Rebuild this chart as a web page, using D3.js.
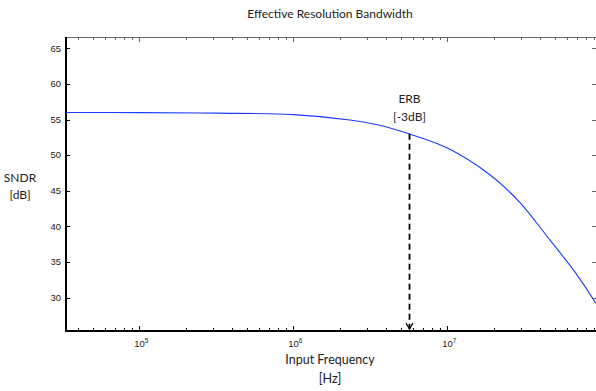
<!DOCTYPE html>
<html><head><meta charset="utf-8">
<script src="https://cdn.jsdelivr.net/npm/d3@7"></script>
<style>body{margin:0;background:#fff}svg{display:block}</style>
</head><body><div id="chart"></div>
<script>
// Data
const freqHz = [3.34e4, 1e5, 3.14e5, 1e6, 2.33e6, 3.65e6, 5.62e6, 1e7, 1.89e7, 2.96e7, 4.63e7, 6.73e7, 9.2e7];
const sndrDb = [56.0, 55.97, 55.9, 55.7, 54.95, 54.2, 53.0, 51.0, 47.25, 43.35, 38.1, 33.6, 29.2];
const erbFreq = 5.62e6;
const erbDb = 53.0;
const yTicks = [30, 35, 40, 45, 50, 55, 60, 65];
const xMajorExp = [5, 6, 7];
const titleText = "Effective Resolution Bandwidth";
const yLabel = ["SNDR", "[dB]"];
const xLabel = ["Input Frequency", "[Hz]"];
const erbLabel = ["ERB", "[-3dB]"];

const W = 596, H = 391;
const L = 66, R = 597, T = 37, B = 331;
const svg = d3.select("#chart").append("svg").attr("width", W).attr("height", H);

const x = d3.scaleLog().domain([3.34e4, 1.0e8]).range([L, L + 154 * Math.log10(1e8 / 3.34e4)]);
const y = d3.scaleLinear().domain([25.3, 66.6]).range([B, T]);

const tickFont = "'Liberation Sans', Arial, sans-serif";
const textFont = "Lato, 'Open Sans', sans-serif";

const minor = [];
for (let e = 4; e <= 7; e++) for (let m = 1; m <= 9; m++) {
  const v = m * Math.pow(10, e);
  if (v >= x.domain()[0] && v <= x.domain()[1]) minor.push({v, major: m === 1});
}
const g = svg.append("g");
g.append("line").attr("x1", L).attr("x2", R).attr("y1", T + 0.5).attr("y2", T + 0.5).attr("stroke", "#666").attr("stroke-width", 1);
g.append("line").attr("x1", R - 0.5).attr("x2", R - 0.5).attr("y1", T).attr("y2", B).attr("stroke", "#666").attr("stroke-width", 1);

g.selectAll(".xb").data(minor).enter().append("line")
  .attr("x1", d => Math.round(x(d.v)) + 0.5).attr("x2", d => Math.round(x(d.v)) + 0.5)
  .attr("y1", B).attr("y2", d => B - (d.major ? 5 : 3)).attr("stroke", "#000");
g.selectAll(".xt").data(minor).enter().append("line")
  .attr("x1", d => Math.round(x(d.v)) + 0.5).attr("x2", d => Math.round(x(d.v)) + 0.5)
  .attr("y1", T).attr("y2", d => T + (d.major ? 5 : 3)).attr("stroke", "#666");
g.selectAll(".yl").data(yTicks).enter().append("line")
  .attr("x1", L).attr("x2", L + 4).attr("y1", d => Math.round(y(d)) + 0.5).attr("y2", d => Math.round(y(d)) + 0.5)
  .attr("stroke", "#000");
g.selectAll(".yr").data(yTicks).enter().append("line")
  .attr("x1", R - 1).attr("x2", R - 5).attr("y1", d => Math.round(y(d)) + 0.5).attr("y2", d => Math.round(y(d)) + 0.5)
  .attr("stroke", "#666");

g.selectAll(".ylab").data(yTicks).enter().append("text")
  .attr("x", L - 5).attr("y", d => y(d)).attr("dy", "0.35em").attr("text-anchor", "end")
  .attr("font-family", tickFont).attr("font-size", 9.5).attr("fill", "#222").text(d => d);
const xl = g.selectAll(".xlab").data(xMajorExp).enter().append("text")
  .attr("x", d => x(Math.pow(10, d)) + 2).attr("y", B + 16).attr("text-anchor", "middle")
  .attr("font-family", tickFont).attr("font-size", 9.5).attr("fill", "#222");
xl.append("tspan").text("10");
xl.append("tspan").attr("dy", -4).attr("font-size", 6.5).text(d => d);

g.append("line").attr("x1", L).attr("x2", L).attr("y1", T).attr("y2", B + 1).attr("stroke", "#000").attr("stroke-width", 2);
g.append("line").attr("x1", L - 1).attr("x2", R).attr("y1", B).attr("y2", B).attr("stroke", "#000").attr("stroke-width", 2);

const line = d3.line().x((d, i) => x(freqHz[i])).y((d, i) => y(sndrDb[i])).curve(d3.curveCatmullRom.alpha(0.5));
svg.append("defs").append("clipPath").attr("id", "clip").append("rect").attr("x", L).attr("y", T).attr("width", R - L).attr("height", B - T);
svg.append("path").datum(sndrDb).attr("d", line).attr("fill", "none").attr("stroke", "#1a3cff").attr("stroke-width", 1.1).attr("clip-path", "url(#clip)");

const ex = Math.round(x(erbFreq)) + 0.5;
svg.append("line").attr("x1", ex).attr("x2", ex).attr("y1", y(erbDb)).attr("y2", B - 2)
  .attr("stroke", "#000").attr("stroke-width", 1.8).attr("stroke-dasharray", "6,4");
svg.append("path").attr("d", `M${ex - 3.5},${B - 8} L${ex},${B - 2} L${ex + 3.5},${B - 8}`)
  .attr("fill", "none").attr("stroke", "#000").attr("stroke-width", 1.3);

const txt = (t, xx, yy, size) => svg.append("text").attr("x", xx).attr("y", yy).attr("text-anchor", "middle")
  .attr("font-family", textFont).attr("font-size", size).attr("fill", "#222").text(t);
txt(titleText, 330, 18, 12);
txt(erbLabel[0], ex, 103, 12);
txt(erbLabel[1], ex, 121, 12);
txt(yLabel[0], 20, 182, 12);
txt(yLabel[1], 20, 199, 12);
txt(xLabel[0], 330, 364, 12.5);
txt(xLabel[1], 330, 383, 12.5);
</script></body></html>
